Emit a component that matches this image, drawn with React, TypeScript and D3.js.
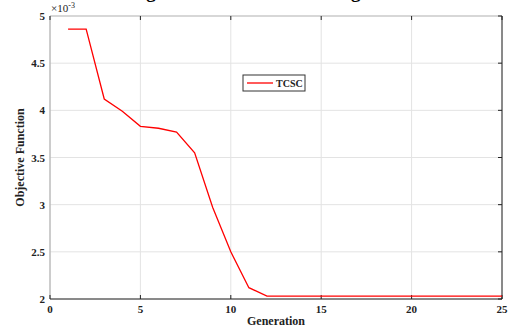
import React from "react";
import * as d3 from "d3";

const generations = [1, 2, 3, 4, 5, 6, 7, 8, 9, 10, 11, 12, 13, 14, 15, 16, 17, 18, 19, 20, 21, 22, 23, 24, 25];
const objective = [4.86, 4.86, 4.12, 3.99, 3.83, 3.81, 3.77, 3.55, 2.97, 2.5, 2.12, 2.03, 2.03, 2.03, 2.03, 2.03, 2.03, 2.03, 2.03, 2.03, 2.03, 2.03, 2.03, 2.03, 2.03];
const xTicks = [0, 5, 10, 15, 20, 25];
const yTicks = [2, 2.5, 3, 3.5, 4, 4.5, 5];
const seriesName = "TCSC";
const titleText = "Convergence Characteristic using TCSC";

export default function App() {
  const W = 516, H = 332;
  const L = 50, R = 502, T = 16, B = 299;
  const x = d3.scaleLinear().domain([0, 25]).range([L, R]);
  const y = d3.scaleLinear().domain([2, 5]).range([B, T]);
  const line = d3.line<number>().x((_, i) => x(generations[i])).y((d) => y(d));
  const font = "'Liberation Serif', 'Times New Roman', serif";
  return (
    <svg width={W} height={H} style={{ position: "absolute", left: 0, top: 0, background: "#fff" }} fontFamily={font}>
      <rect x={0} y={0} width={W} height={H} fill="#fff" />
      <text x={86} y={-2} textAnchor="start" fontSize={19} fontWeight="bold" fill="#000">{titleText}</text>
      {xTicks.map((t) => (
        <line key={"gx" + t} x1={x(t)} x2={x(t)} y1={T} y2={B} stroke="#e3e3e3" strokeWidth={1} />
      ))}
      {yTicks.map((t) => (
        <line key={"gy" + t} x1={L} x2={R} y1={y(t)} y2={y(t)} stroke="#e3e3e3" strokeWidth={1} />
      ))}
      <line x1={L} x2={R} y1={T} y2={T} stroke="#bdbdbd" strokeWidth={1} />
      <line x1={L} x2={L} y1={T} y2={B} stroke="#a8a8a8" strokeWidth={1} />
      <line x1={L} x2={R} y1={B} y2={B} stroke="#222" strokeWidth={1} />
      <line x1={R} x2={R} y1={T} y2={B} stroke="#222" strokeWidth={1} />
      {xTicks.map((t) => (
        <g key={"tx" + t}>
          <line x1={x(t)} x2={x(t)} y1={B} y2={B - 4} stroke="#222" strokeWidth={1} />
          <line x1={x(t)} x2={x(t)} y1={T} y2={T + 4} stroke="#222" strokeWidth={1} />
          <text x={x(t)} y={B + 14} textAnchor="middle" fontSize={11} fontWeight="bold" fill="#222">{t}</text>
        </g>
      ))}
      {yTicks.map((t) => (
        <g key={"ty" + t}>
          <line x1={R} x2={R - 4} y1={y(t)} y2={y(t)} stroke="#222" strokeWidth={1} />
          <text x={45} y={y(t) + 4} textAnchor="end" fontSize={11} fontWeight="bold" fill="#222">{t}</text>
        </g>
      ))}
      <text x={51} y={12} fontSize={11} fill="#222">×10<tspan dy={-4} fontSize={8}>-3</tspan></text>
      <path d={line(objective) || ""} fill="none" stroke="#ff0000" strokeWidth={1.3} />
      <text x={276} y={325} textAnchor="middle" fontSize={12} fontWeight="bold" fill="#222">Generation</text>
      <text transform={`translate(24,${(T + B) / 2}) rotate(-90)`} textAnchor="middle" fontSize={12} fontWeight="bold" fill="#222">Objective Function</text>
      <rect x={243} y={75} width={62} height={16} fill="#fff" stroke="#333" strokeWidth={1} />
      <line x1={247} x2={273} y1={83} y2={83} stroke="#ff0000" strokeWidth={1.3} />
      <text x={276} y={87} fontSize={10} fontWeight="bold" fill="#222">{seriesName}</text>
    </svg>
  );
}
